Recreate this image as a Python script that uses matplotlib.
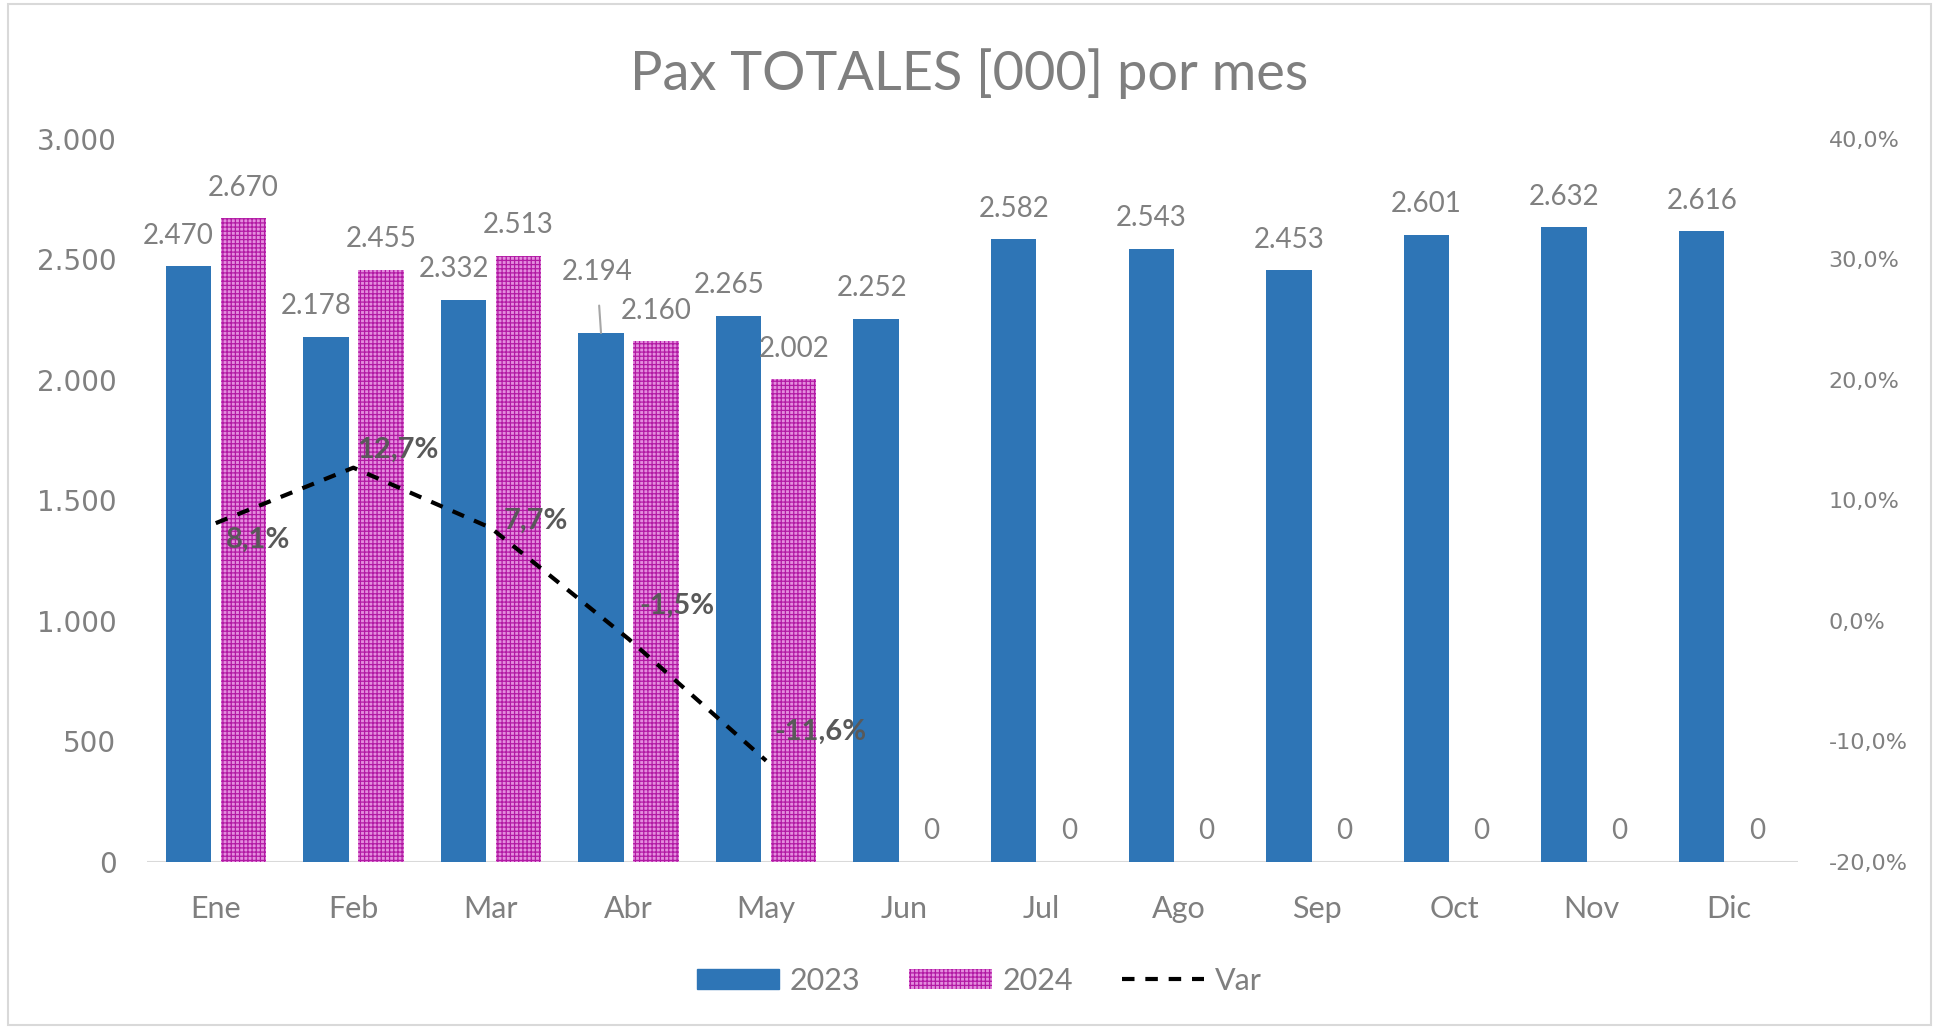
import numpy as np
import matplotlib
matplotlib.use("Agg")
import matplotlib.pyplot as plt
import matplotlib.patches as mpatches
from matplotlib.lines import Line2D
from matplotlib.ticker import FuncFormatter

months = ["Ene", "Feb", "Mar", "Abr", "May", "Jun", "Jul", "Ago", "Sep", "Oct", "Nov", "Dic"]
pax_2023 = [2470, 2178, 2332, 2194, 2265, 2252, 2582, 2543, 2453, 2601, 2632, 2616]
pax_2024 = [2670, 2455, 2513, 2160, 2002, 0, 0, 0, 0, 0, 0, 0]
var_pct = [8.1, 12.7, 7.7, -1.5, -11.6]

BLUE = "#2E75B6"
PINK = "#E48DDE"
PURPLE = "#B21AA4"
GRAY = "#808080"

plt.rcParams["hatch.linewidth"] = 0.9

def miles(v, pos=None):
	return "{:,.0f}".format(v).replace(",", ".")

def pct(v, pos=None):
	return "{:.1f}%".format(v).replace(".", ",")

fig = plt.figure(figsize=(19.39, 10.29), dpi=100)
ax = fig.add_axes([0.0758, 0.1623, 0.8515, 0.7031])
ax2 = ax.twinx()

x = np.arange(len(months))
w = 0.33
b23 = ax.bar(x - 0.2, pax_2023, w, color=BLUE, zorder=2)
b24 = ax.bar(x + 0.2, pax_2024, w, facecolor=PINK, edgecolor=PURPLE,
	linewidth=0, hatch="++++", zorder=2)

ax.set_xlim(-0.5, len(months) - 0.5)
ax.set_ylim(0, 3000)
ax.set_yticks(range(0, 3001, 500))
ax.yaxis.set_major_formatter(FuncFormatter(miles))
ax.set_xticks(x)
ax.set_xticklabels(months, fontfamily="Lato", fontsize=22, color="#7F7F7F")
ax.tick_params(axis="x", length=0, pad=24)
ax.tick_params(axis="y", length=0, labelsize=20, labelcolor=GRAY, pad=22)

ax2.set_ylim(-20, 40)
ax2.set_yticks(range(-20, 41, 10))
ax2.yaxis.set_major_formatter(FuncFormatter(pct))
ax2.tick_params(axis="y", length=0, labelsize=16, labelcolor=GRAY, pad=22)

for a in (ax, ax2):
	for s in a.spines.values():
		s.set_visible(False)
ax.axhline(0, color="#D9D9D9", lw=1.5, zorder=1)

# etiquetas de barras
lab23_dx = [-7, -7, -7, -3, -7, -3, 0, 0, 0, 0, 0, 0]
for i, v in enumerate(pax_2023):
	if months[i] == "Abr":
		ax.annotate(miles(v), (x[i] - 0.2, v), xytext=(lab23_dx[i], 44), textcoords="offset points",
			ha="center", va="center", fontfamily="Lato", fontsize=20, color=GRAY,
			arrowprops=dict(arrowstyle="-", color="#A6A6A6", lw=1.5, shrinkA=13, shrinkB=0))
	else:
		ax.annotate(miles(v), (x[i] - 0.2, v), xytext=(lab23_dx[i], 22), textcoords="offset points",
			ha="center", va="center", fontfamily="Lato", fontsize=20, color=GRAY)
for i, v in enumerate(pax_2024):
	ax.annotate(miles(v), (x[i] + 0.2, v), xytext=(0, 22), textcoords="offset points",
		ha="center", va="center", fontfamily="Lato", fontsize=20, color=GRAY)

# linea de variacion
xv = x[:len(var_pct)]
ax2.plot(xv, var_pct, color="black", lw=3, ls=(0, (3, 2.6)), zorder=3)
var_offsets = [(7, -12), (3, 13), (9, 5), (8, 24), (6, 21)]
for xi, v, off in zip(xv, var_pct, var_offsets):
	ax2.annotate(pct(v), (xi, v), xytext=off, textcoords="offset points",
		ha="left", va="center", fontfamily="Lato", fontsize=21, fontweight="bold",
		color="#595959")

fig.suptitle("Pax TOTALES [000] por mes", x=0.5, y=0.928, va="center", fontfamily="Lato",
	fontsize=39, color="#7F7F7F")

handles = [mpatches.Patch(color=BLUE, label="2023"),
	mpatches.Patch(facecolor=PINK, edgecolor=PURPLE, linewidth=0, hatch="++++", label="2024"),
	Line2D([0], [0], color="black", lw=3, ls=(0, (3, 2.6)), label="Var")]
fig.legend(handles=handles, loc="center", bbox_to_anchor=(0.505, 0.047), ncol=3,
	frameon=False, prop={"family": "Lato", "size": 22}, labelcolor="#7F7F7F",
	handlelength=2.7, handleheight=0.6, columnspacing=1.6, handletextpad=0.35)

fig.patches.append(mpatches.Rectangle((0.004, 0.004), 0.992, 0.992, transform=fig.transFigure,
	fill=False, edgecolor="#D9D9D9", lw=1.5))

fig.savefig("out.png", dpi=100)
